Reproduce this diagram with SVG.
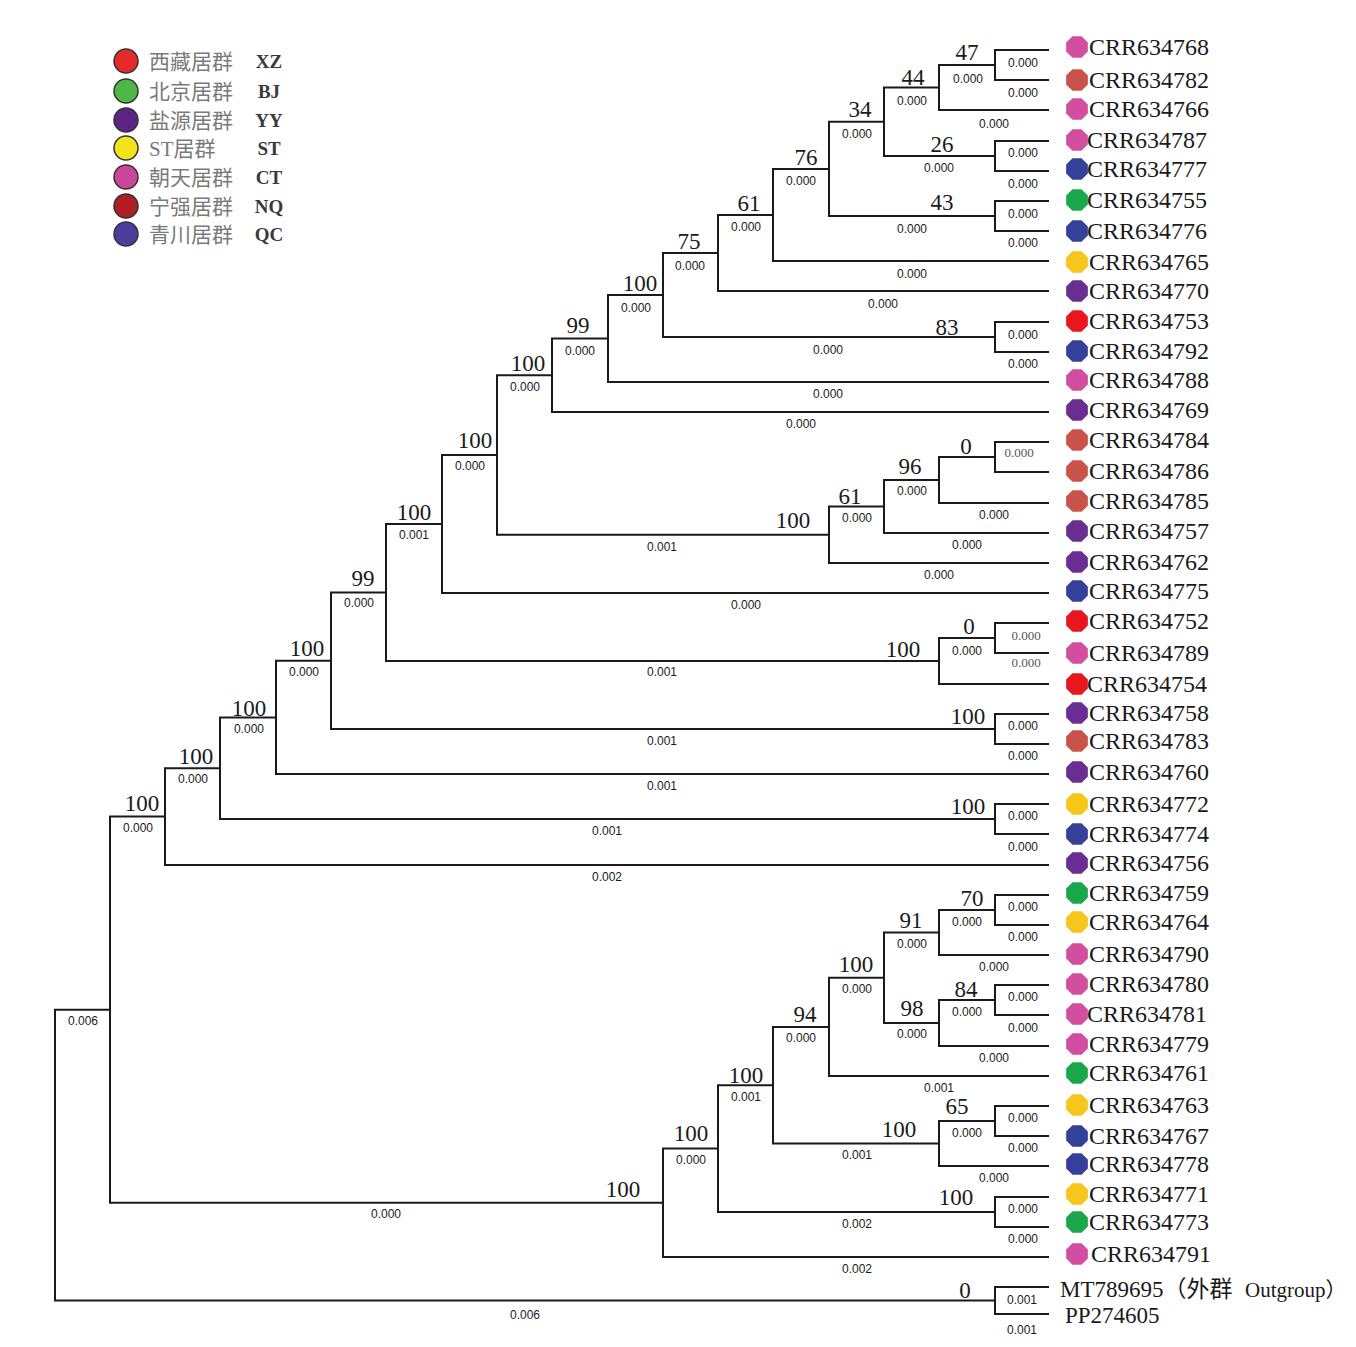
<svg xmlns="http://www.w3.org/2000/svg" width="1356" height="1347" viewBox="0 0 1356 1347">
<style>
.br{fill:none;stroke:#1a1a1a;stroke-width:2}
.bs{font-family:"Liberation Serif",serif;font-size:23px;fill:#1a1a1a;text-anchor:middle}
.bl{font-family:"Liberation Sans",sans-serif;font-size:12px;fill:#1a1a1a;text-anchor:middle}
.blg{font-family:"Liberation Serif",serif;font-size:13px;fill:#555;text-anchor:middle}
.tip{font-family:"Liberation Serif",serif;font-size:24px;fill:#1a1a1a}
.lg{font-family:"Liberation Serif","Noto Sans CJK SC",serif;font-size:21px;fill:#7a7a7a}
.lc{font-family:"Liberation Serif",serif;font-size:19px;font-weight:bold;fill:#3a3a3a;text-anchor:middle}
.lcir{stroke:#333;stroke-width:1.5}
.XZ{fill:#e8161e}.BJ{fill:#1aa64a}.YY{fill:#6a2d91}.ST{fill:#f7c61a}.CT{fill:#d24f9f}.NQ{fill:#c9534b}.QC{fill:#34409a}
</style>
<defs>
<path id="oct" d="M-4.5,-10.85 L4.5,-10.85 L10.85,-4.5 L10.85,4.5 L4.5,10.85 L-4.5,10.85 L-10.85,4.5 L-10.85,-4.5 Z"/>
</defs>
<rect width="1356" height="1347" fill="#fff"/>

<g id="legend">
<circle class="lcir" cx="126" cy="61" r="12" fill="#e52a2a"/>
<circle class="lcir" cx="126" cy="91" r="12" fill="#4db848"/>
<circle class="lcir" cx="126" cy="120" r="12" fill="#5c2483"/>
<circle class="lcir" cx="126" cy="148" r="12" fill="#f2e31d"/>
<circle class="lcir" cx="126" cy="177" r="12" fill="#c8479b"/>
<circle class="lcir" cx="126" cy="206" r="12" fill="#b01e23"/>
<circle class="lcir" cx="126" cy="234" r="12" fill="#4c3c9c"/>
<text class="lg" x="149" y="69">西藏居群</text>
<text class="lg" x="149" y="99">北京居群</text>
<text class="lg" x="149" y="128">盐源居群</text>
<text class="lg" x="149" y="156">ST居群</text>
<text class="lg" x="149" y="185">朝天居群</text>
<text class="lg" x="149" y="214">宁强居群</text>
<text class="lg" x="149" y="242">青川居群</text>
<text class="lc" x="269" y="68">XZ</text>
<text class="lc" x="269" y="98">BJ</text>
<text class="lc" x="269" y="127">YY</text>
<text class="lc" x="269" y="155">ST</text>
<text class="lc" x="269" y="184">CT</text>
<text class="lc" x="269" y="213">NQ</text>
<text class="lc" x="269" y="241">QC</text>
</g>

<g id="connectors">
<path class="br" d="M1049 50 H995 V80 H1049"/>
<path class="br" d="M995 65 H939 V110 H1049"/>
<path class="br" d="M1049 141 H995 V171 H1049"/>
<path class="br" d="M939 87.5 H884 V156 H995"/>
<path class="br" d="M1049 201 H995 V231 H1049"/>
<path class="br" d="M884 121.75 H829 V216 H995"/>
<path class="br" d="M829 168.9 H773 V261 H1049"/>
<path class="br" d="M773 214.9 H718 V291 H1049"/>
<path class="br" d="M1049 322 H995 V352 H1049"/>
<path class="br" d="M718 253 H663 V337 H995"/>
<path class="br" d="M663 295 H608 V382 H1049"/>
<path class="br" d="M608 338.5 H552 V412 H1049"/>
<path class="br" d="M1049 442 H995 V472 H1049"/>
<path class="br" d="M995 457 H939 V503 H1049"/>
<path class="br" d="M939 480 H884 V533 H1049"/>
<path class="br" d="M884 506.5 H829 V563 H1049"/>
<path class="br" d="M552 375.25 H497 V534.75 H829"/>
<path class="br" d="M497 455 H442 V593 H1049"/>
<path class="br" d="M1049 623 H995 V653 H1049"/>
<path class="br" d="M995 638 H939 V684 H1049"/>
<path class="br" d="M442 524 H386 V661 H939"/>
<path class="br" d="M1049 714 H995 V744 H1049"/>
<path class="br" d="M386 592.5 H331 V729 H995"/>
<path class="br" d="M331 660.75 H276 V774 H1049"/>
<path class="br" d="M1049 804 H995 V834 H1049"/>
<path class="br" d="M276 717.4 H220 V819 H995"/>
<path class="br" d="M220 768.2 H165 V865 H1049"/>
<path class="br" d="M1049 895 H995 V925 H1049"/>
<path class="br" d="M995 910 H939 V955 H1049"/>
<path class="br" d="M1049 985 H995 V1015 H1049"/>
<path class="br" d="M995 1000 H939 V1046 H1049"/>
<path class="br" d="M939 932.5 H884 V1023 H939"/>
<path class="br" d="M884 977.75 H829 V1076 H1049"/>
<path class="br" d="M1049 1106 H995 V1136 H1049"/>
<path class="br" d="M995 1121 H939 V1166 H1049"/>
<path class="br" d="M829 1026.9 H773 V1143.5 H939"/>
<path class="br" d="M1049 1197 H995 V1227 H1049"/>
<path class="br" d="M773 1085.2 H718 V1212 H995"/>
<path class="br" d="M718 1148.6 H663 V1257 H1049"/>
<path class="br" d="M165 816.6 H110 V1202.8 H663"/>
<path class="br" d="M1049 1287 H995 V1314 H1049"/>
<path class="br" d="M110 1009.7 H55 V1300.5 H995"/>

<g id="branch-lengths">
<text class="bl" x="1023" y="67">0.000</text>
<text class="bl" x="1023" y="97">0.000</text>
<text class="bl" x="968" y="83">0.000</text>
<text class="bl" x="912" y="105">0.000</text>
<text class="bl" x="994" y="128">0.000</text>
<text class="bl" x="857" y="138">0.000</text>
<text class="bl" x="1023" y="157">0.000</text>
<text class="bl" x="939" y="172">0.000</text>
<text class="bl" x="1023" y="188">0.000</text>
<text class="bl" x="801" y="185">0.000</text>
<text class="bl" x="1023" y="218">0.000</text>
<text class="bl" x="912" y="233">0.000</text>
<text class="bl" x="1023" y="247">0.000</text>
<text class="bl" x="746" y="231">0.000</text>
<text class="bl" x="912" y="278">0.000</text>
<text class="bl" x="690" y="270">0.000</text>
<text class="bl" x="883" y="308">0.000</text>
<text class="bl" x="636" y="312">0.000</text>
<text class="bl" x="1023" y="339">0.000</text>
<text class="bl" x="1023" y="368">0.000</text>
<text class="bl" x="828" y="354">0.000</text>
<text class="bl" x="580" y="355">0.000</text>
<text class="bl" x="828" y="398">0.000</text>
<text class="bl" x="525" y="391">0.000</text>
<text class="bl" x="801" y="428">0.000</text>
<text class="bl" x="470" y="470">0.000</text>
<text class="blg" x="1019" y="457">0.000</text>
<text class="bl" x="912" y="495">0.000</text>
<text class="bl" x="994" y="519">0.000</text>
<text class="bl" x="857" y="522">0.000</text>
<text class="bl" x="967" y="549">0.000</text>
<text class="bl" x="662" y="551">0.001</text>
<text class="bl" x="939" y="579">0.000</text>
<text class="bl" x="414" y="539">0.001</text>
<text class="bl" x="746" y="609">0.000</text>
<text class="bl" x="359" y="607">0.000</text>
<text class="blg" x="1026" y="640">0.000</text>
<text class="blg" x="1026" y="667">0.000</text>
<text class="bl" x="967" y="655">0.000</text>
<text class="bl" x="662" y="676">0.001</text>
<text class="bl" x="304" y="676">0.000</text>
<text class="bl" x="1023" y="730">0.000</text>
<text class="bl" x="1023" y="760">0.000</text>
<text class="bl" x="662" y="745">0.001</text>
<text class="bl" x="249" y="733">0.000</text>
<text class="bl" x="193" y="783">0.000</text>
<text class="bl" x="662" y="790">0.001</text>
<text class="bl" x="1023" y="820">0.000</text>
<text class="bl" x="1023" y="851">0.000</text>
<text class="bl" x="607" y="835">0.001</text>
<text class="bl" x="138" y="832">0.000</text>
<text class="bl" x="607" y="881">0.002</text>
<text class="bl" x="83" y="1025">0.006</text>
<text class="bl" x="1023" y="911">0.000</text>
<text class="bl" x="1023" y="941">0.000</text>
<text class="bl" x="967" y="926">0.000</text>
<text class="bl" x="912" y="948">0.000</text>
<text class="bl" x="994" y="971">0.000</text>
<text class="bl" x="857" y="993">0.000</text>
<text class="bl" x="1023" y="1001">0.000</text>
<text class="bl" x="1023" y="1032">0.000</text>
<text class="bl" x="967" y="1016">0.000</text>
<text class="bl" x="912" y="1038">0.000</text>
<text class="bl" x="994" y="1062">0.000</text>
<text class="bl" x="801" y="1042">0.000</text>
<text class="bl" x="939" y="1092">0.001</text>
<text class="bl" x="746" y="1101">0.001</text>
<text class="bl" x="1023" y="1122">0.000</text>
<text class="bl" x="1023" y="1152">0.000</text>
<text class="bl" x="967" y="1137">0.000</text>
<text class="bl" x="857" y="1159">0.001</text>
<text class="bl" x="994" y="1182">0.000</text>
<text class="bl" x="691" y="1164">0.000</text>
<text class="bl" x="1023" y="1213">0.000</text>
<text class="bl" x="1023" y="1243">0.000</text>
<text class="bl" x="857" y="1228">0.002</text>
<text class="bl" x="857" y="1273">0.002</text>
<text class="bl" x="386" y="1218">0.000</text>
<text class="bl" x="1022" y="1304">0.001</text>
<text class="bl" x="1022" y="1334">0.001</text>
<text class="bl" x="525" y="1319">0.006</text>
</g>
</g>

<g id="bootstrap">
<g id="n47"><text class="bs" x="967" y="60">47</text></g>
<g id="n44"><text class="bs" x="913" y="85">44</text></g>
<g id="n34"><text class="bs" x="860" y="117">34</text></g>
<g id="n26"><text class="bs" x="942" y="151.5">26</text></g>
<g id="n43"><text class="bs" x="942" y="210">43</text></g>
<g id="n76"><text class="bs" x="806" y="164.5">76</text></g>
<g id="n61a"><text class="bs" x="749" y="210.5">61</text></g>
<g id="n75"><text class="bs" x="689" y="248.5">75</text></g>
<g id="n100a"><text class="bs" x="640" y="290.5">100</text></g>
<g id="n83"><text class="bs" x="947" y="334.5">83</text></g>
<g id="n99a"><text class="bs" x="578" y="332.5">99</text></g>
<g id="n100b"><text class="bs" x="528" y="370.5">100</text></g>
<g id="n100c"><text class="bs" x="475" y="447.5">100</text></g>
<g id="n0a"><text class="bs" x="966" y="453.5">0</text></g>
<g id="n96"><text class="bs" x="910" y="473.5">96</text></g>
<g id="n61b"><text class="bs" x="850" y="504">61</text></g>
<g id="n100d"><text class="bs" x="793" y="528">100</text></g>
<g id="n100e"><text class="bs" x="414" y="519.5">100</text></g>
<g id="n99b"><text class="bs" x="363" y="585.5">99</text></g>
<g id="n0b"><text class="bs" x="969" y="633.5">0</text></g>
<g id="n100f"><text class="bs" x="903" y="656.5">100</text></g>
<g id="n100g"><text class="bs" x="307" y="655.5">100</text></g>
<g id="n100h"><text class="bs" x="968" y="723.5">100</text></g>
<g id="n100i"><text class="bs" x="249" y="715.5">100</text></g>
<g id="n100j"><text class="bs" x="196" y="763.5">100</text></g>
<g id="n100k"><text class="bs" x="968" y="813.5">100</text></g>
<g id="n100l"><text class="bs" x="142" y="810.5">100</text></g>
<g id="n70"><text class="bs" x="972" y="905.5">70</text></g>
<g id="n91"><text class="bs" x="911" y="927.5">91</text></g>
<g id="n100m"><text class="bs" x="856" y="971.5">100</text></g>
<g id="n84"><text class="bs" x="966" y="996.5">84</text></g>
<g id="n98"><text class="bs" x="912" y="1015.5">98</text></g>
<g id="n94"><text class="bs" x="805" y="1021.5">94</text></g>
<g id="n100n"><text class="bs" x="746" y="1082.5">100</text></g>
<g id="n65"><text class="bs" x="957" y="1113.5">65</text></g>
<g id="n100o"><text class="bs" x="899" y="1136.5">100</text></g>
<g id="n100p"><text class="bs" x="691" y="1140.5">100</text></g>
<g id="n100q"><text class="bs" x="956" y="1204.5">100</text></g>
<g id="n100r"><text class="bs" x="623" y="1196.5">100</text></g>
<g id="n0c"><text class="bs" x="965" y="1297.5">0</text></g>
</g>

<g id="tips">
<g id="CRR634768"><use href="#oct" x="1077" y="47" class="CT"/><text class="tip" x="1089" y="55">CRR634768</text></g>
<g id="CRR634782"><use href="#oct" x="1077" y="80" class="NQ"/><text class="tip" x="1089" y="88">CRR634782</text></g>
<g id="CRR634766"><use href="#oct" x="1077" y="109" class="CT"/><text class="tip" x="1089" y="117">CRR634766</text></g>
<g id="CRR634787"><use href="#oct" x="1077" y="140" class="CT"/><text class="tip" x="1087" y="148">CRR634787</text></g>
<g id="CRR634777"><use href="#oct" x="1077" y="169" class="QC"/><text class="tip" x="1087" y="177">CRR634777</text></g>
<g id="CRR634755"><use href="#oct" x="1077" y="200" class="BJ"/><text class="tip" x="1087" y="208">CRR634755</text></g>
<g id="CRR634776"><use href="#oct" x="1077" y="231" class="QC"/><text class="tip" x="1087" y="239">CRR634776</text></g>
<g id="CRR634765"><use href="#oct" x="1077" y="262" class="ST"/><text class="tip" x="1089" y="270">CRR634765</text></g>
<g id="CRR634770"><use href="#oct" x="1077" y="291" class="YY"/><text class="tip" x="1089" y="299">CRR634770</text></g>
<g id="CRR634753"><use href="#oct" x="1077" y="321" class="XZ"/><text class="tip" x="1089" y="329">CRR634753</text></g>
<g id="CRR634792"><use href="#oct" x="1077" y="351" class="QC"/><text class="tip" x="1089" y="359">CRR634792</text></g>
<g id="CRR634788"><use href="#oct" x="1077" y="380" class="CT"/><text class="tip" x="1089" y="388">CRR634788</text></g>
<g id="CRR634769"><use href="#oct" x="1077" y="410" class="YY"/><text class="tip" x="1089" y="418">CRR634769</text></g>
<g id="CRR634784"><use href="#oct" x="1077" y="440" class="NQ"/><text class="tip" x="1089" y="448">CRR634784</text></g>
<g id="CRR634786"><use href="#oct" x="1077" y="471" class="NQ"/><text class="tip" x="1089" y="479">CRR634786</text></g>
<g id="CRR634785"><use href="#oct" x="1077" y="501" class="NQ"/><text class="tip" x="1089" y="509">CRR634785</text></g>
<g id="CRR634757"><use href="#oct" x="1077" y="531" class="YY"/><text class="tip" x="1089" y="539">CRR634757</text></g>
<g id="CRR634762"><use href="#oct" x="1077" y="562" class="YY"/><text class="tip" x="1089" y="570">CRR634762</text></g>
<g id="CRR634775"><use href="#oct" x="1077" y="591" class="QC"/><text class="tip" x="1089" y="599">CRR634775</text></g>
<g id="CRR634752"><use href="#oct" x="1077" y="621" class="XZ"/><text class="tip" x="1089" y="629">CRR634752</text></g>
<g id="CRR634789"><use href="#oct" x="1077" y="653" class="CT"/><text class="tip" x="1089" y="661">CRR634789</text></g>
<g id="CRR634754"><use href="#oct" x="1077" y="684" class="XZ"/><text class="tip" x="1087" y="692">CRR634754</text></g>
<g id="CRR634758"><use href="#oct" x="1077" y="713" class="YY"/><text class="tip" x="1089" y="721">CRR634758</text></g>
<g id="CRR634783"><use href="#oct" x="1077" y="741" class="NQ"/><text class="tip" x="1089" y="749">CRR634783</text></g>
<g id="CRR634760"><use href="#oct" x="1077" y="772" class="YY"/><text class="tip" x="1089" y="780">CRR634760</text></g>
<g id="CRR634772"><use href="#oct" x="1077" y="804" class="ST"/><text class="tip" x="1089" y="812">CRR634772</text></g>
<g id="CRR634774"><use href="#oct" x="1077" y="834" class="QC"/><text class="tip" x="1089" y="842">CRR634774</text></g>
<g id="CRR634756"><use href="#oct" x="1077" y="863" class="YY"/><text class="tip" x="1089" y="871">CRR634756</text></g>
<g id="CRR634759"><use href="#oct" x="1077" y="893" class="BJ"/><text class="tip" x="1089" y="901">CRR634759</text></g>
<g id="CRR634764"><use href="#oct" x="1077" y="922" class="ST"/><text class="tip" x="1089" y="930">CRR634764</text></g>
<g id="CRR634790"><use href="#oct" x="1077" y="954" class="CT"/><text class="tip" x="1089" y="962">CRR634790</text></g>
<g id="CRR634780"><use href="#oct" x="1077" y="984" class="CT"/><text class="tip" x="1089" y="992">CRR634780</text></g>
<g id="CRR634781"><use href="#oct" x="1077" y="1014" class="CT"/><text class="tip" x="1087" y="1022">CRR634781</text></g>
<g id="CRR634779"><use href="#oct" x="1077" y="1044" class="CT"/><text class="tip" x="1089" y="1052">CRR634779</text></g>
<g id="CRR634761"><use href="#oct" x="1077" y="1073" class="BJ"/><text class="tip" x="1089" y="1081">CRR634761</text></g>
<g id="CRR634763"><use href="#oct" x="1077" y="1105" class="ST"/><text class="tip" x="1089" y="1113">CRR634763</text></g>
<g id="CRR634767"><use href="#oct" x="1077" y="1136" class="QC"/><text class="tip" x="1089" y="1144">CRR634767</text></g>
<g id="CRR634778"><use href="#oct" x="1077" y="1164" class="QC"/><text class="tip" x="1089" y="1172">CRR634778</text></g>
<g id="CRR634771"><use href="#oct" x="1077" y="1194" class="ST"/><text class="tip" x="1089" y="1202">CRR634771</text></g>
<g id="CRR634773"><use href="#oct" x="1077" y="1222" class="BJ"/><text class="tip" x="1089" y="1230">CRR634773</text></g>
<g id="CRR634791"><use href="#oct" x="1077" y="1254" class="CT"/><text class="tip" x="1091" y="1262">CRR634791</text></g>
<g id="MT789695"><text class="tip" x="1060" y="1297" style="font-size:23px;font-family:'Liberation Serif','Noto Sans CJK SC',serif">MT789695（外群<tspan x="1245" style="font-size:21px">Outgroup）</tspan></text></g>
<g id="PP274605"><text class="tip" x="1065" y="1323" style="font-size:23px">PP274605</text></g>
</g>
</svg>
